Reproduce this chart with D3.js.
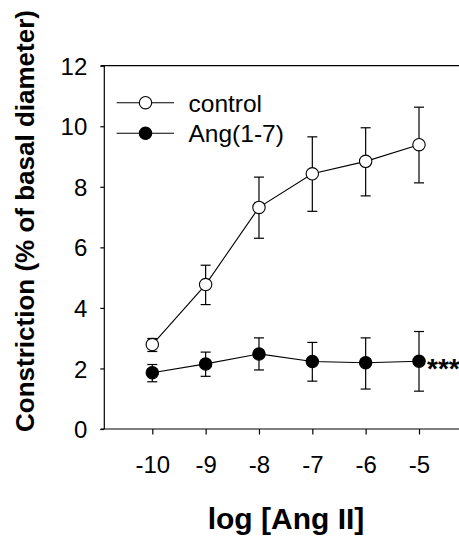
<!DOCTYPE html>
<html>
<head>
<meta charset="utf-8">
<script src="https://cdn.jsdelivr.net/npm/d3@7"></script>
<style>
  html, body { margin: 0; padding: 0; background: #fff; }
  svg { display: block; }
  text { font-family: "Liberation Sans", Arial, Helvetica, sans-serif; fill: #000; }
</style>
</head>
<body>
<svg id="chart" width="459" height="537"></svg>
<script>
// ---- data ----
const doses = [-10, -9, -8, -7, -6, -5];
const xTickLabels = ["-10", "-9", "-8", "-7", "-6", "-5"];
const yTicks = [0, 2, 4, 6, 8, 10, 12];
const controlMean = [2.79, 4.77, 7.32, 8.43, 8.84, 9.39];
const controlUpper = [2.99, 5.41, 8.32, 9.65, 9.95, 10.63];
const controlLower = [2.56, 4.11, 6.30, 7.19, 7.70, 8.13];
const angMean = [1.86, 2.15, 2.48, 2.23, 2.19, 2.24];
const angUpper = [2.13, 2.54, 3.01, 2.86, 3.01, 3.22];
const angLower = [1.56, 1.74, 1.95, 1.58, 1.32, 1.25];
const seriesNames = ["control", "Ang(1-7)"];
const significance = "***";

const svg = d3.select("#chart");
const x = d3.scaleLinear().domain([-10, -5]).range([152.3, 419]);
const y = d3.scaleLinear().domain([0, 12]).range([429, 65.7]);

const xLeft = x.invert(104.3), xRight = x.invert(459);

// frame lines
const frame = svg.append("g").attr("stroke", "#000").attr("stroke-width", 1.2).attr("fill", "none");
frame.append("line").attr("x1", x(xLeft) - 3.6).attr("x2", x(xRight)).attr("y1", y(0)).attr("y2", y(0));
frame.append("line").attr("x1", x(xLeft) - 3.6).attr("x2", x(xRight)).attr("y1", y(12)).attr("y2", y(12));
frame.append("line").attr("x1", x(xLeft)).attr("x2", x(xLeft)).attr("y1", y(0)).attr("y2", y(12));

// y axis
const yAxis = svg.append("g").attr("transform", `translate(${x(xLeft)},0)`)
  .call(d3.axisLeft(y).tickValues(yTicks).tickSize(4).tickPadding(13).tickFormat(d3.format("d")));
yAxis.select(".domain").remove();
yAxis.selectAll("line").attr("stroke", "#000").attr("stroke-width", 1.2);
yAxis.selectAll("text").style("font-size", "24px").attr("dy", "0.36em");

// x axis
const xAxis = svg.append("g").attr("transform", `translate(0,${y(0)})`)
  .call(d3.axisBottom(x).tickValues(doses).tickSize(5.5).tickPadding(21.5)
    .tickFormat((d, i) => xTickLabels[i]));
xAxis.select(".domain").remove();
xAxis.selectAll("line").attr("stroke", "#000").attr("stroke-width", 1.2);
xAxis.selectAll("text").style("font-size", "24px");

// series
const series = [
  { name: seriesNames[0], mean: controlMean, up: controlUpper, lo: controlLower, fill: "#fff" },
  { name: seriesNames[1], mean: angMean, up: angUpper, lo: angLower, fill: "#000" }
];
const line = d3.line().x((d, i) => x(doses[i])).y(d => y(d));
const capW = 5;

series.forEach(s => {
  const g = svg.append("g");
  doses.forEach((d, i) => {
    g.append("line").attr("x1", x(d)).attr("x2", x(d)).attr("y1", y(s.lo[i])).attr("y2", y(s.up[i]))
      .attr("stroke", "#000").attr("stroke-width", 1.2);
    [s.lo[i], s.up[i]].forEach(v => {
      g.append("line").attr("x1", x(d) - capW).attr("x2", x(d) + capW).attr("y1", y(v)).attr("y2", y(v))
        .attr("stroke", "#000").attr("stroke-width", 1.2);
    });
  });
  g.append("path").datum(s.mean).attr("d", line).attr("fill", "none").attr("stroke", "#000").attr("stroke-width", 1.1);
  g.selectAll("circle").data(s.mean).join("circle")
    .attr("cx", (d, i) => x(doses[i])).attr("cy", d => y(d)).attr("r", 6.2)
    .attr("fill", s.fill).attr("stroke", "#000").attr("stroke-width", 1.1);
});

// significance stars
svg.append("text").attr("x", x(doses[5]) + 8).attr("y", y(angMean[5]) + 17)
  .style("font-size", "28px").style("font-weight", "bold").text(significance);

// legend
const legY = [102.7, 133.3];
series.forEach((s, i) => {
  const g = svg.append("g");
  g.append("line").attr("x1", 116.7).attr("x2", 174).attr("y1", legY[i]).attr("y2", legY[i])
    .attr("stroke", "#000").attr("stroke-width", 1.1);
  g.append("circle").attr("cx", 145.5).attr("cy", legY[i]).attr("r", 6.2)
    .attr("fill", s.fill).attr("stroke", "#000").attr("stroke-width", 1.1);
  g.append("text").attr("x", 188.5).attr("y", legY[i]).attr("dy", "0.36em")
    .style("font-size", "24.5px").text(s.name);
});

// axis titles
svg.append("text").attr("x", 286).attr("y", 529).attr("text-anchor", "middle")
  .style("font-size", "30px").style("font-weight", "bold").text("log [Ang II]");
svg.append("text").attr("transform", "translate(34,221) rotate(-90)").attr("text-anchor", "middle")
  .style("font-size", "26px").style("font-weight", "bold").text("Constriction (% of basal diameter)");
</script>
</body>
</html>
